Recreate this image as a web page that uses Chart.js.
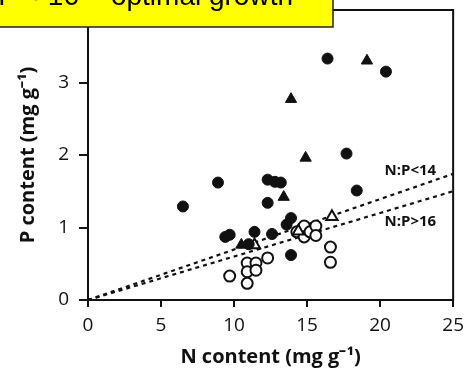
<!DOCTYPE html>
<html>
<head>
<meta charset="utf-8">
<script src="https://cdn.jsdelivr.net/npm/chart.js@4.4.1/dist/chart.umd.min.js"></script>
<style>
  body { margin: 0; background: #fff; }
  #wrap { width: 471px; height: 371px; }
</style>
</head>
<body>
<div id="wrap"><canvas id="chart" width="471" height="371"></canvas></div>
<script>
// N and P content
const filledCircleN = [6.5, 8.9, 12.3, 12.8, 13.2, 12.3, 18.4, 9.4, 9.7, 11.4, 12.6, 11.0, 13.9, 13.6, 13.9, 16.4, 20.4, 17.7];
const filledCircleP = [1.29, 1.62, 1.66, 1.63, 1.62, 1.34, 1.51, 0.87, 0.90, 0.94, 0.91, 0.77, 1.13, 1.04, 0.62, 3.33, 3.15, 2.02];

const filledTriangleN = [19.1, 13.9, 14.9, 13.4, 10.5];
const filledTriangleP = [3.30, 2.77, 1.96, 1.42, 0.76];

const openCircleN = [9.7, 10.9, 11.5, 10.9, 11.5, 10.9, 12.3, 14.3, 14.8, 14.8, 15.2, 15.6, 15.6, 16.6, 16.6];
const openCircleP = [0.33, 0.51, 0.51, 0.39, 0.41, 0.23, 0.58, 0.94, 1.02, 0.87, 0.94, 1.02, 0.89, 0.73, 0.52];

const openTriangleN = [11.4, 14.4, 16.7];
const openTriangleP = [0.76, 0.95, 1.15];

// ratio lines
const lineN = [0, 25];
const lowRatioP = [0, 1.74];   // N:P<14
const highRatioP = [0, 1.50];  // N:P>16

const xTicks = [0, 5, 10, 15, 20, 25];
const yTicks = [0, 1, 2, 3];

function pts(xs, ys) {
  return xs.map((x, i) => ({ x: x, y: ys[i] }));
}

const extras = {
  id: 'extras',
  afterDraw(chart) {
    const ctx = chart.ctx;
    const a = chart.chartArea;
    const xs = chart.scales.x, ys = chart.scales.y;
    ctx.save();
    // frame
    ctx.strokeStyle = '#111';
    ctx.lineWidth = 2;
    ctx.strokeRect(a.left, a.top, a.right - a.left, a.bottom - a.top);

    // line labels
    ctx.fillStyle = '#111';
    ctx.font = 'bold 15px "Open Sans"';
    ctx.textAlign = 'left';
    ctx.textBaseline = 'middle';
    ctx.fillText('N:P<14', xs.getPixelForValue(20.3), ys.getPixelForValue(1.78));
    ctx.fillText('N:P>16', xs.getPixelForValue(20.3), ys.getPixelForValue(1.08));

    // yellow note box, cut at the top
    ctx.fillStyle = '#ffff00';
    ctx.fillRect(0, 0, 333, 27);
    ctx.strokeStyle = '#222';
    ctx.lineWidth = 1.5;
    ctx.beginPath();
    ctx.moveTo(333, 0); ctx.lineTo(333, 27); ctx.lineTo(0, 27);
    ctx.stroke();
    ctx.beginPath();
    ctx.rect(0, 0, 333, 27);
    ctx.clip();
    ctx.fillStyle = '#000';
    ctx.font = '28px "Liberation Sans"';
    ctx.textAlign = 'right';
    ctx.textBaseline = 'alphabetic';
    ctx.fillText('N:P \u2248 16 = optimal growth', 293, 5);
    ctx.restore();
  }
};

const ctx = document.getElementById('chart');
new Chart(ctx, {
  type: 'scatter',
  data: {
    datasets: [
      { label: 'N:P<14', type: 'line', data: pts(lineN, lowRatioP), borderColor: '#111', borderWidth: 2.2,
        borderDash: [4, 4], pointRadius: 0, fill: false, order: 10 },
      { label: 'N:P>16', type: 'line', data: pts(lineN, highRatioP), borderColor: '#111', borderWidth: 2.2,
        borderDash: [4, 4], pointRadius: 0, fill: false, order: 10 },
      { label: 'open circles', data: pts(openCircleN, openCircleP), pointStyle: 'circle', pointRadius: 5.5,
        backgroundColor: '#fff', borderColor: '#111', borderWidth: 2, order: 4 },
      { label: 'open triangles', data: pts(openTriangleN, openTriangleP), pointStyle: 'triangle', pointRadius: 6.5,
        backgroundColor: '#fff', borderColor: '#111', borderWidth: 2, order: 3 },
      { label: 'filled circles', data: pts(filledCircleN, filledCircleP), pointStyle: 'circle', pointRadius: 5.5,
        backgroundColor: '#111', borderColor: '#111', borderWidth: 1, order: 2 },
      { label: 'filled triangles', data: pts(filledTriangleN, filledTriangleP), pointStyle: 'triangle', pointRadius: 6.5,
        backgroundColor: '#111', borderColor: '#111', borderWidth: 1, order: 1 }
    ]
  },
  options: {
    responsive: false,
    animation: false,
    layout: { padding: { top: 10, right: 14, left: 0, bottom: 0 } },
    plugins: { legend: { display: false }, tooltip: { enabled: false } },
    scales: {
      x: {
        type: 'linear', min: 0, max: 25,
        afterBuildTicks: s => { s.ticks = xTicks.map(v => ({ value: v })); },
        afterFit: s => { s.height = 71; },
        grid: { drawOnChartArea: false, drawTicks: true, tickLength: 7, color: '#111', lineWidth: 2 },
        border: { display: true, color: '#111', width: 2 },
        ticks: { color: '#111', padding: 7, font: { family: 'Open Sans', size: 19 } },
        title: { display: true, text: 'N content (mg g\u207B\u00B9)', color: '#111', padding: { top: 2, bottom: 2 },
          font: { family: 'Open Sans', size: 20, weight: 'bold' } }
      },
      y: {
        type: 'linear', min: 0, max: 4,
        afterBuildTicks: s => { s.ticks = yTicks.map(v => ({ value: v })); },
        afterFit: s => { s.width = 88; s.paddingTop = 0; },
        grid: { drawOnChartArea: false, drawTicks: true, tickLength: 9, color: '#111', lineWidth: 2 },
        border: { display: true, color: '#111', width: 2 },
        ticks: { color: '#111', padding: 10, font: { family: 'Open Sans', size: 19 } },
        title: { display: true, text: 'P content (mg g\u207B\u00B9)', color: '#111', padding: { top: 16, bottom: 4 },
          font: { family: 'Open Sans', size: 20, weight: 'bold' } }
      }
    }
  },
  plugins: [extras]
});
</script>
</body>
</html>
